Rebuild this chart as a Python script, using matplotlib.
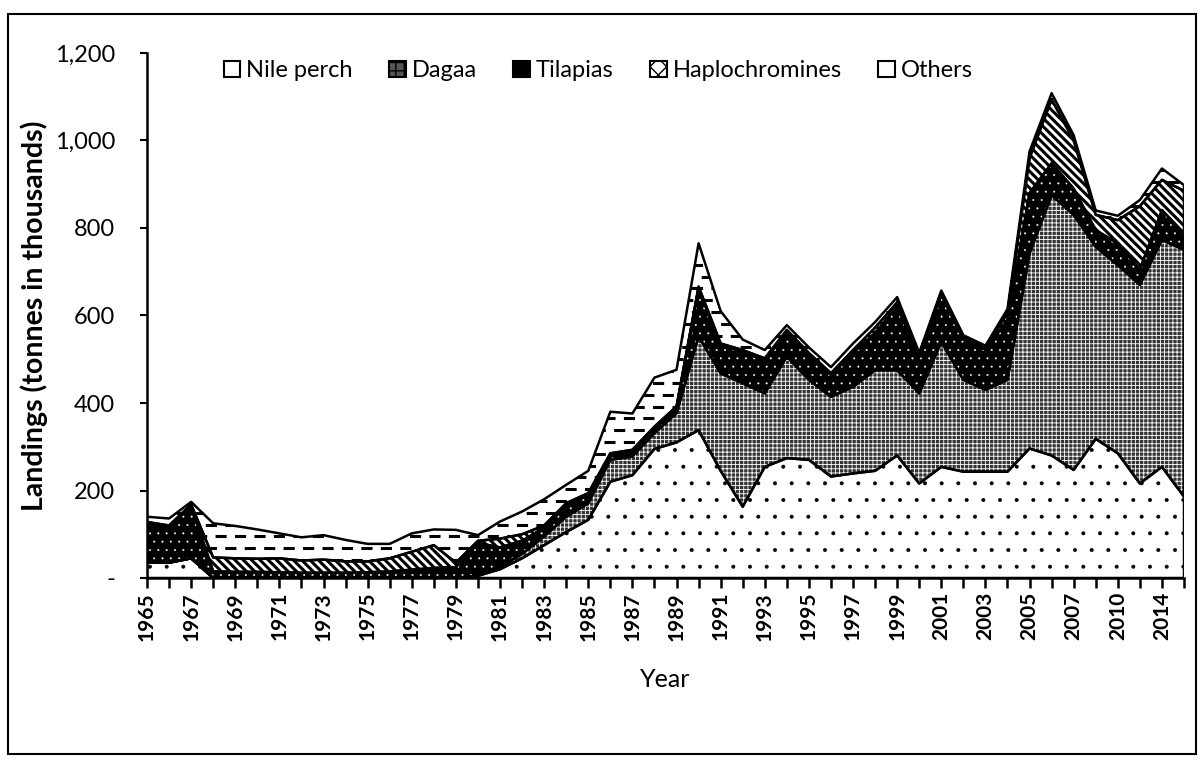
import numpy as np
import matplotlib
matplotlib.use("Agg")
import matplotlib.pyplot as plt
from matplotlib.patches import Patch, Rectangle
from matplotlib.ticker import FuncFormatter

# categories (the axis skips a few survey years at the end)
years = list(range(1965, 2009)) + [2010, 2011, 2014, 2015]

# landings, thousand tonnes
nile_perch = [35, 35, 45, 0, 0, 0, 0, 0, 0, 0, 0, 0, 0, 0, 0, 5, 20, 45, 75, 105,
              133, 220, 235, 295, 310, 338, 245, 163, 254, 274, 270, 232, 239, 245,
              280, 216, 254, 243, 243, 243, 296, 280, 247, 318, 285, 216, 254, 186]
dagaa = [0, 0, 0, 0, 0, 0, 0, 0, 0, 0, 0, 0, 0, 0, 0, 0, 5, 10, 20, 35,
         38, 50, 43, 36, 67, 214, 223, 282, 168, 232, 183, 182, 198, 230,
         195, 206, 286, 210, 187, 210, 446, 595, 583, 439, 430, 454, 519, 564]
tilapias = [90, 82, 120, 15, 14, 14, 13, 12, 12, 12, 13, 15, 19, 23, 25, 75, 45, 30, 20, 25,
            19, 12, 12, 12, 12, 110, 64, 72, 76, 57, 57, 50, 78, 85,
            146, 83, 108, 92, 92, 137, 138, 73, 60, 38, 50, 35, 68, 38]
haplochromines = [3, 3, 3, 32, 31, 30, 32, 28, 30, 26, 25, 30, 41, 52, 10, 5, 20, 15, 5, 6,
                  4, 3, 3, 3, 3, 4, 4, 4, 4, 4, 4, 4, 6, 12,
                  9, 5, 4, 5, 5, 15, 80, 146, 110, 35, 53, 145, 69, 97]
others = [12, 16, 6, 78, 74, 67, 57, 53, 56, 49, 40, 33, 42, 36, 75, 13, 39, 52, 60, 42,
          51, 95, 83, 112, 84, 99, 74, 24, 19, 11, 13, 14, 15, 13,
          12, 5, 5, 5, 4, 10, 15, 14, 12, 10, 10, 14, 26, 13]

series_names = ["Nile perch", "Dagaa", "Tilapias", "Haplochromines", "Others"]

plt.rcParams["font.family"] = ["Lato", "DejaVu Sans"]
plt.rcParams["lines.scale_dashes"] = False

fig = plt.figure(figsize=(12.04, 7.6), dpi=100)
ax = fig.add_axes([147 / 1204, 182 / 760, 1037 / 1204, 525 / 760])

x = np.arange(len(years))
layers = np.array([nile_perch, dagaa, tilapias, haplochromines, others], dtype=float)
tops = np.cumsum(layers, axis=0)
bottoms = np.vstack([np.zeros(len(years)), tops[:-1]])

# fill, hatch, hatch colour, hatch line width
styles = [
    ("white", ".", "black", 0.4),
    ("#343434", "++++", "white", 0.6),
    ("black", "..", "white", 0.2),
    ("white", "\\\\\\\\", "black", 2.2),
    ("white", None, "black", 1.0),
]

fills = []
for lo, hi, (face, hatch, hcol, hlw) in zip(bottoms, tops, styles):
    with plt.rc_context({"hatch.linewidth": hlw}):
        f = ax.fill_between(x, lo, hi, facecolor=face, edgecolor=hcol,
                            hatch=hatch, linewidth=0, zorder=1)
    fills.append(f)
    ax.fill_between(x, lo, hi, facecolor="none", edgecolor="black",
                    linewidth=1.8, zorder=3)

# "Others" texture: staggered short dashes clipped to its band
rows = np.arange(14, 1200, 27)
clip = fills[4].get_paths()[0]
for k, off in enumerate((0, 7)):
    lc = ax.hlines(rows[k::2], 0, len(years) - 1, colors="black",
                   linewidth=2.2, linestyles=[(off, (8, 6))], zorder=2)
    lc.set_clip_path(clip, ax.transData)

ax.set_xlim(0, len(years) - 1)
ax.set_ylim(0, 1200)
ax.set_xticks(x)
ax.set_xticklabels([str(y) if i % 2 == 0 else "" for i, y in enumerate(years)],
                   rotation=90, fontsize=15, fontweight="bold")
ax.set_yticks(np.arange(0, 1201, 200))
ax.yaxis.set_major_formatter(FuncFormatter(lambda v, p: "-" if v == 0 else f"{v:,.0f}"))
ax.tick_params(axis="x", direction="out", length=7, width=1.8, pad=3)
ax.tick_params(axis="y", direction="out", length=5, width=1.5, labelsize=17, pad=18)
for s in ("top", "right"):
    ax.spines[s].set_visible(False)
for s in ("left", "bottom"):
    ax.spines[s].set_linewidth(1.8)

handles = [
    Patch(facecolor="white", edgecolor="black", linewidth=1.5),
    Patch(facecolor="#555555", edgecolor="black", hatch="++", linewidth=1.5),
    Patch(facecolor="black", edgecolor="black", linewidth=1.5),
    Patch(facecolor="white", edgecolor="black", hatch="xx", linewidth=1.5),
    Patch(facecolor="white", edgecolor="black", linewidth=1.5),
]
ax.legend(handles, series_names, loc="center", bbox_to_anchor=(0.435, 0.966),
          ncol=5, frameon=False, fontsize=17, handlelength=0.7, handleheight=0.7,
          handletextpad=0.25, columnspacing=1.55)

ax.set_ylabel("Landings (tonnes in thousands)", fontsize=20.5, fontweight="bold")
ax.yaxis.set_label_coords(-0.095, 0.5)
ax.set_xlabel("Year", fontsize=18)
ax.xaxis.set_label_coords(0.5, -0.172)

fig.patches.append(Rectangle((8 / 1204, 6 / 760), 1188 / 1204, 740 / 760,
                             transform=fig.transFigure, fill=False,
                             edgecolor="black", linewidth=1.5))

fig.savefig("out.png", dpi=100)
